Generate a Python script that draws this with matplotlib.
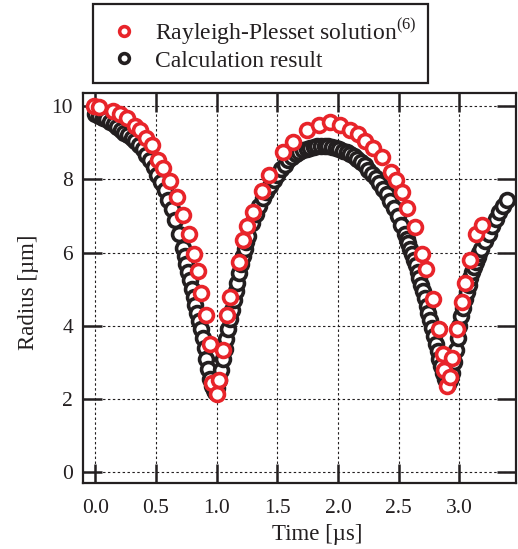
import numpy as np
import matplotlib
matplotlib.use('Agg')
import matplotlib.pyplot as plt
from matplotlib.lines import Line2D

plt.rcParams['font.family'] = ['Liberation Serif', 'DejaVu Serif']
plt.rcParams['mathtext.fontset'] = 'custom'
plt.rcParams['mathtext.rm'] = 'Liberation Serif'

# Rayleigh-Plesset solution (ref. 6)
rp_time = [-0.015, 0.03, 0.148, 0.20, 0.26, 0.33, 0.37, 0.42, 0.465, 0.52,
           0.56, 0.615, 0.67, 0.726, 0.77, 0.81, 0.848, 0.874, 0.908, 0.946,
           0.963, 1.00, 1.022, 1.05, 1.088, 1.11, 1.185, 1.218, 1.25, 1.30,
           1.372, 1.432, 1.55, 1.627, 1.745, 1.84, 1.935, 2.017, 2.10, 2.168,
           2.225, 2.29, 2.36, 2.435, 2.48, 2.526, 2.572, 2.63, 2.695, 2.728,
           2.78, 2.83, 2.864, 2.87, 2.90, 2.92, 2.94, 2.98, 3.02, 3.05,
           3.09, 3.135, 3.185]
rp_radius = [10.0, 9.97, 9.88, 9.80, 9.67, 9.47, 9.35, 9.13, 8.93, 8.53,
             8.31, 7.97, 7.53, 7.03, 6.50, 5.96, 5.50, 4.90, 4.29, 3.51,
             2.45, 2.15, 2.52, 3.34, 4.29, 4.80, 5.75, 6.35, 6.72, 7.12,
             7.68, 8.12, 8.76, 9.01, 9.34, 9.48, 9.56, 9.48, 9.36, 9.24,
             9.06, 8.87, 8.60, 8.21, 7.99, 7.65, 7.23, 6.71, 5.96, 5.55,
             4.73, 3.92, 3.22, 2.80, 2.36, 2.60, 3.11, 3.92, 4.66, 5.16,
             5.80, 6.50, 6.76]

# calculation result (finer output around the two collapses)
calc_time = [0.00, 0.03, 0.06, 0.09, 0.12, 0.15, 0.18, 0.21, 0.24, 0.27,
             0.30, 0.33, 0.36, 0.39, 0.42, 0.45, 0.48, 0.51, 0.54, 0.57,
             0.60, 0.63, 0.66, 0.69,
             0.720, 0.735, 0.750, 0.765, 0.780, 0.795, 0.810, 0.825, 0.840,
             0.855, 0.870, 0.885, 0.900, 0.915, 0.930, 0.945, 0.960, 0.975,
             0.990, 1.005, 1.020, 1.035, 1.050, 1.065, 1.080, 1.095, 1.110,
             1.125, 1.140, 1.155, 1.170, 1.185, 1.200, 1.215, 1.230, 1.245,
             1.26, 1.29, 1.32, 1.35, 1.38, 1.41, 1.44, 1.47,
             1.50, 1.53, 1.56, 1.59, 1.62, 1.65, 1.68, 1.71, 1.74, 1.77,
             1.80, 1.83, 1.86, 1.89, 1.92, 1.95, 1.98, 2.01, 2.04, 2.07,
             2.10, 2.13, 2.16, 2.19, 2.22, 2.25, 2.28, 2.31, 2.34, 2.37,
             2.40, 2.43, 2.46, 2.49, 2.52,
             2.550, 2.565, 2.580, 2.595, 2.610, 2.625, 2.640, 2.655, 2.670,
             2.685, 2.700, 2.715, 2.730, 2.745, 2.760, 2.775, 2.790, 2.805,
             2.820, 2.835, 2.850, 2.865, 2.880, 2.895, 2.910, 2.925, 2.940,
             2.955, 2.970, 2.985, 3.000, 3.015, 3.030, 3.045, 3.060, 3.075,
             3.090, 3.105, 3.120, 3.135, 3.150, 3.165,
             3.18, 3.21, 3.24, 3.27, 3.30, 3.33, 3.36, 3.39]
calc_radius = [9.78, 9.74, 9.69, 9.64, 9.58, 9.51, 9.43, 9.36, 9.28, 9.20,
               9.12, 9.04, 8.94, 8.82, 8.68, 8.52, 8.34, 8.13, 7.92, 7.70,
               7.45, 7.18, 6.88, 6.52,
               6.12, 5.92, 5.70, 5.48, 5.25, 5.02, 4.80, 4.57, 4.35,
               4.14, 3.92, 3.67, 3.40, 3.10, 2.82, 2.56, 2.36, 2.24,
               2.20, 2.30, 2.52, 2.80, 3.10, 3.38, 3.65, 3.92, 4.18,
               4.44, 4.70, 4.95, 5.18, 5.45, 5.70, 5.90, 6.10, 6.28,
               6.45, 6.80, 7.05, 7.28, 7.48, 7.66, 7.83, 7.98,
               8.12, 8.28, 8.40, 8.52, 8.62, 8.70, 8.76, 8.80, 8.84, 8.86,
               8.88, 8.90, 8.90, 8.90, 8.90, 8.88, 8.86, 8.82, 8.78, 8.74,
               8.70, 8.63, 8.55, 8.47, 8.38, 8.27, 8.15, 8.03, 7.90, 7.75,
               7.60, 7.42, 7.22, 7.00, 6.75,
               6.50, 6.38, 6.25, 6.10, 5.95, 5.80, 5.65, 5.48, 5.30,
               5.12, 4.95, 4.75, 4.55, 4.35, 4.15, 3.93, 3.72, 3.51,
               3.30, 3.10, 2.90, 2.70, 2.55, 2.45, 2.42, 2.52, 2.72,
               3.02, 3.35, 3.68, 4.00, 4.26, 4.50, 4.72, 4.92, 5.12,
               5.30, 5.47, 5.62, 5.75, 5.88, 6.00,
               6.10, 6.32, 6.52, 6.72, 6.92, 7.10, 7.28, 7.44]

x_ticks = [0.0, 0.5, 1.0, 1.5, 2.0, 2.5, 3.0]
y_ticks = [0, 2, 4, 6, 8, 10]

RED = '#e8242a'
INK = '#231f20'

fig = plt.figure(figsize=(5.18, 5.49), dpi=100)
ax = fig.add_axes([0.1597, 0.1197, 0.8373, 0.7109])

ax.plot(calc_time, calc_radius, ls='none', marker='o', ms=10, mew=2.6,
        mec=INK, mfc='white', zorder=3, clip_on=False)
ax.plot(rp_time, rp_radius, ls='none', marker='o', ms=10, mew=2.6,
        mec=RED, mfc='white', zorder=4, clip_on=False)

ax.set_xlim(-0.104, 3.47)
ax.set_ylim(-0.30, 10.36)
ax.set_xticks(x_ticks)
ax.set_xticklabels(['%.1f' % v for v in x_ticks])
ax.set_yticks(y_ticks)

ax.grid(True, color=INK, linestyle=(0, (2.2, 2.2)), linewidth=0.8)
ax.set_axisbelow(True)
for s in ax.spines.values():
    s.set_linewidth(1.6)
    s.set_color(INK)
ax.tick_params(direction='in', length=14, width=1.8, color=INK,
               top=True, right=True, labelsize=15.5, labelcolor=INK)
ax.tick_params(axis='x', pad=11)
ax.tick_params(axis='y', pad=7)

ax.set_xlabel('Time [\u00b5s]', fontsize=16.5, color=INK)
ax.set_ylabel('Radius [\u00b5m]', fontsize=16.5, color=INK)
ax.xaxis.set_label_coords(0.54, -0.105)
ax.yaxis.set_label_coords(-0.10, 0.49)

handles = [
    Line2D([], [], ls='none', marker='o', ms=7, mew=2.6, mec=RED, mfc='white'),
    Line2D([], [], ls='none', marker='o', ms=7, mew=2.6, mec=INK, mfc='white'),
]
labels = [r'Rayleigh-Plesset solution$^{\mathrm{(6)}}$', 'Calculation result']
leg = fig.legend(handles, labels, loc='upper left',
                 bbox_to_anchor=(0.18, 0.9927), fontsize=17,
                 frameon=True, fancybox=False, framealpha=1,
                 edgecolor=INK, borderpad=0.5, labelspacing=0.15,
                 handletextpad=0.5, handlelength=1.6, borderaxespad=0)
leg.get_frame().set_linewidth(1.6)
for t in leg.get_texts():
    t.set_color(INK)

fig.savefig('out.png', dpi=100)
